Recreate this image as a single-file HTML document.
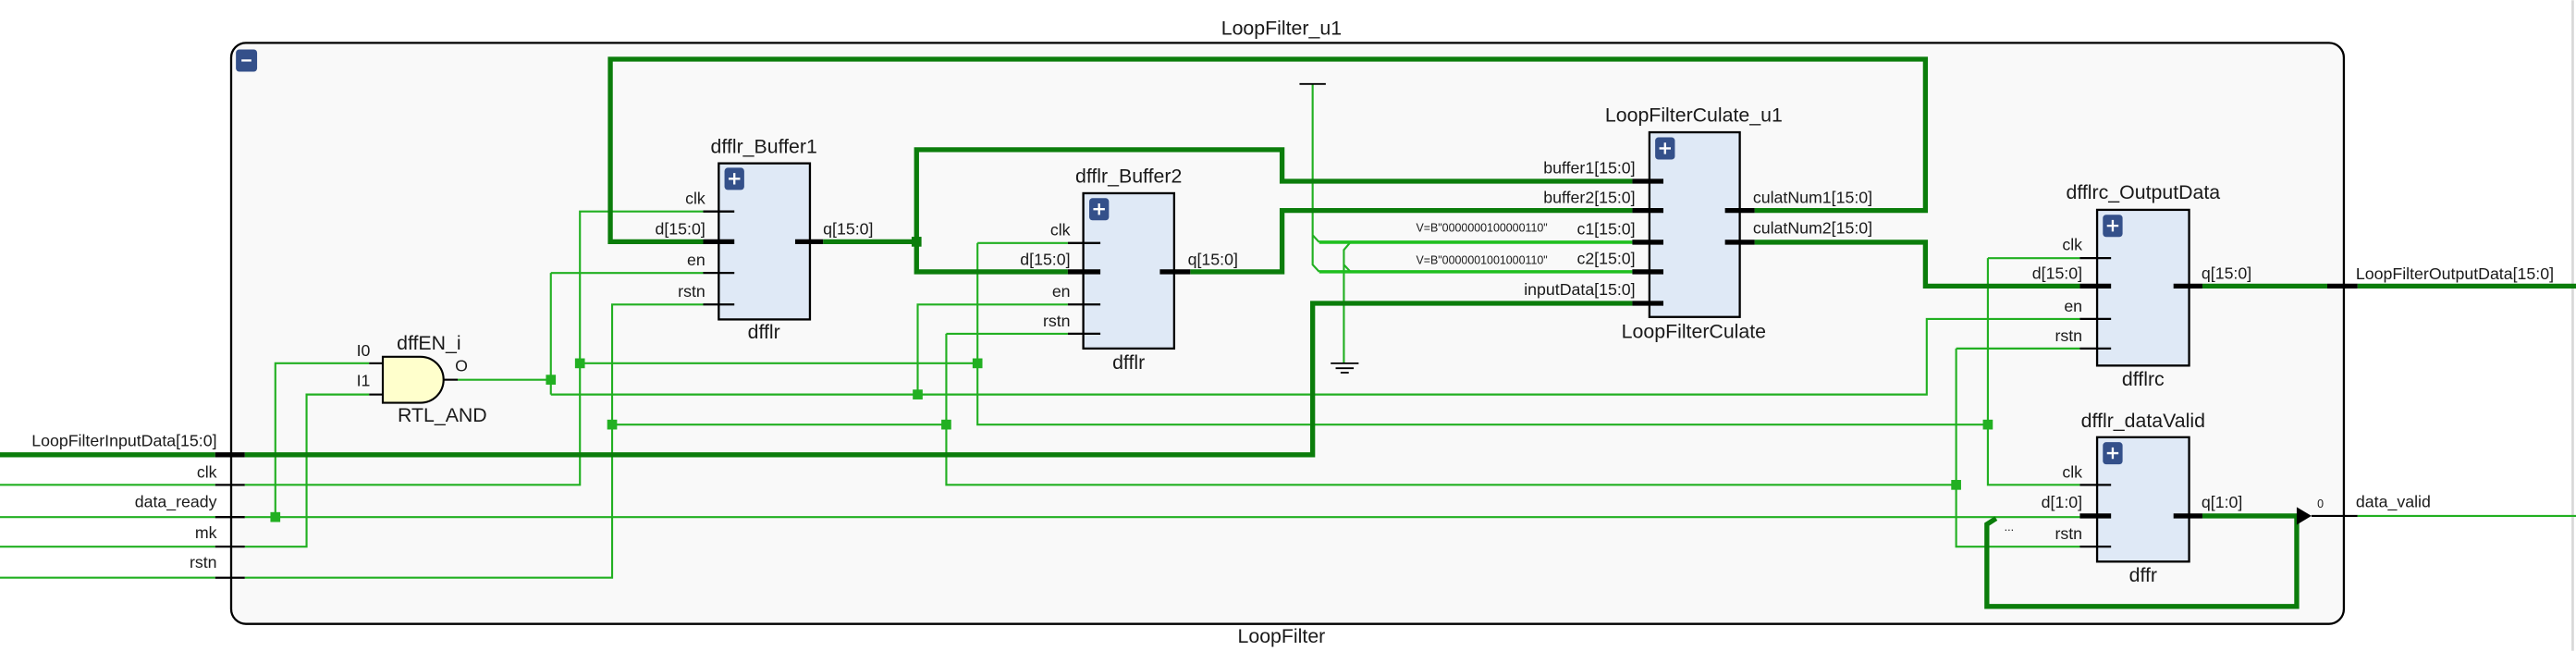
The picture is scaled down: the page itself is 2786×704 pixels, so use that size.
<!DOCTYPE html>
<html><head><meta charset="utf-8"><style>
html,body{margin:0;padding:0;background:#fff;}
svg{display:block;}
text{font-family:"Liberation Sans",sans-serif;fill:#1a1a1a;}
</style></head><body>
<svg width="2786" height="704" viewBox="0 0 1568 396" xmlns="http://www.w3.org/2000/svg">
<rect x="0" y="0" width="1568" height="396" fill="#fff"/>
<line x1="1566" y1="0" x2="1566" y2="396" stroke="#d8d8d8" stroke-width="1.5"/>
<!-- outer container -->
<rect x="140.7" y="26" width="1286" height="353.6" rx="9" fill="#f9f9f9" stroke="#000" stroke-width="1.3"/>
<rect x="143.6" y="30" width="12.9" height="13.5" rx="2" fill="#34508a"/>
<line x1="147" y1="36.7" x2="153" y2="36.7" stroke="#fff" stroke-width="1.3"/>
<text x="780" y="21" font-size="12" text-anchor="middle">LoopFilter_u1</text>
<text x="780" y="391" font-size="12" text-anchor="middle">LoopFilter</text>

<!-- thin wires -->
<g fill="none" stroke="#22b022" stroke-width="1.2">
<path d="M0 295 H131 M149 295 H353 V128.6 H428 M353 221 H595"/>
<path d="M0 314.6 H131 M149 314.6 H1266 M167.6 314.6 V221 H224.7"/>
<path d="M0 332.6 H131 M149 332.6 H186.6 V240 H224.7"/>
<path d="M0 351.5 H131 M149 351.5 H372.6 V185.2 H428 M372.6 258.3 H576"/>
<path d="M278.6 231 H335.3 M335.3 166 V240 M335.3 166 H428 M335.3 240 H1172.8 V194 H1266"/>
<path d="M558.6 240 V185.2 H650"/>
<path d="M595 147.8 H650 M595 147.8 V258.3 H1210"/>
<path d="M576 203 H650 M576 203 V295 H1190.7"/>
<path d="M1210 157 H1266 M1210 157 V295 H1266"/>
<path d="M1190.7 212 H1266 M1190.7 212 V332.6 H1266"/>
<path d="M799 51 V143 L803 147.3 M799 143 V161 L803 165.3"/>
<path d="M822 147.3 L818 152 V221 M822 165.3 L818 161"/>
<path d="M1435 313.9 H1568"/>
</g>
<g fill="none" stroke="#1fbf1f" stroke-width="2">
<path d="M803 147.3 H993.6 M803 165.3 H993.6"/>
</g>
<!-- const T and ground -->
<line x1="791" y1="51" x2="807" y2="51" stroke="#000" stroke-width="1"/>
<g stroke="#000" stroke-width="1">
<line x1="810" y1="221" x2="827" y2="221"/>
<line x1="813" y1="224" x2="824" y2="224"/>
<line x1="816" y1="226.7" x2="821" y2="226.7"/>
</g>
<text x="942" y="141" font-size="7" text-anchor="end">V=B"0000000100000110"</text>
<text x="942" y="160.5" font-size="7" text-anchor="end">V=B"0000001001000110"</text>

<!-- thick buses -->
<g fill="none" stroke="#0b7d0b" stroke-width="3">
<path d="M0 276.7 H131 M149 276.7 H799 V184.5 H993.6"/>
<path d="M428 147 H371.5 V35.9 H1172 V128 H1068"/>
<path d="M501 147 H557.9 M557.9 147 V91 H780.4 V110.2 H993.6 M557.9 147 V165.3 H650"/>
<path d="M724.5 165.3 H780.4 V128 H993.6"/>
<path d="M1068 147.3 H1172 V174 H1266"/>
<path d="M1340.6 174 H1416.6 M1435 174 H1568"/>
<path d="M1340.6 313.9 H1399 M1398 313.9 V369 H1209.4 V319 L1215 315.4"/>
</g>
<polygon points="1398,308.5 1407,313.9 1398,319.3" fill="#000"/>
<line x1="1407" y1="313.9" x2="1435" y2="313.9" stroke="#000" stroke-width="1.2"/>
<text x="1410.5" y="309" font-size="7">0</text>
<text x="1220" y="323" font-size="7">...</text>

<!-- junctions -->
<g fill="#22b022">
<rect x="350" y="218" width="6" height="6"/>
<rect x="332.3" y="228" width="6" height="6"/>
<rect x="164.6" y="311.6" width="6" height="6"/>
<rect x="369.6" y="255.3" width="6" height="6"/>
<rect x="555.6" y="237" width="6" height="6"/>
<rect x="592" y="218" width="6" height="6"/>
<rect x="573" y="255.3" width="6" height="6"/>
<rect x="1207" y="255.3" width="6" height="6"/>
<rect x="1187.7" y="292" width="6" height="6"/>
</g>
<rect x="554.9" y="144" width="6" height="6" fill="#0b7d0b"/>

<!-- left ports -->
<g stroke="#000">
<line x1="131" y1="276.7" x2="149" y2="276.7" stroke-width="3"/>
<line x1="131" y1="295" x2="149" y2="295" stroke-width="1.3"/>
<line x1="131" y1="314.6" x2="149" y2="314.6" stroke-width="1.3"/>
<line x1="131" y1="332.6" x2="149" y2="332.6" stroke-width="1.3"/>
<line x1="131" y1="351.5" x2="149" y2="351.5" stroke-width="1.3"/>
<line x1="1416.6" y1="174" x2="1435" y2="174" stroke-width="3"/>
</g>
<g font-size="10" text-anchor="end">
<text x="132" y="271.5">LoopFilterInputData[15:0]</text>
<text x="132" y="290.5">clk</text>
<text x="132" y="308.5">data_ready</text>
<text x="132" y="327.5">mk</text>
<text x="132" y="345.5">rstn</text>
</g>
<text x="1434" y="170" font-size="10">LoopFilterOutputData[15:0]</text>
<text x="1434" y="308.5" font-size="10">data_valid</text>

<!-- AND gate -->
<g stroke="#000" stroke-width="1.2">
<line x1="224.7" y1="221" x2="233" y2="221"/>
<line x1="224.7" y1="240" x2="233" y2="240"/>
<line x1="270" y1="231" x2="278.6" y2="231"/>
</g>
<path d="M233 217 H256 A14 14 0 0 1 256 245 H233 Z" fill="#ffffcc" stroke="#000" stroke-width="1.2"/>
<text x="241.5" y="212.5" font-size="12">dffEN_i</text>
<text x="277" y="226" font-size="10">O</text>
<text x="217" y="216.5" font-size="10">I0</text>
<text x="217" y="235" font-size="10">I1</text>
<text x="242" y="256.5" font-size="12">RTL_AND</text>

<!-- blocks -->
<g fill="#dfe9f6" stroke="#000" stroke-width="1.3">
<rect x="437.5" y="99.3" width="55.5" height="95"/>
<rect x="659.4" y="117.5" width="55.3" height="94.5"/>
<rect x="1004" y="80.4" width="55" height="112.4"/>
<rect x="1276.5" y="127.6" width="56" height="94.8"/>
<rect x="1276.5" y="266" width="56" height="75.7"/>
</g>
<g fill="#34508a">
<rect x="441" y="102" width="12" height="13.5" rx="2"/>
<rect x="663" y="120.5" width="12" height="13.5" rx="2"/>
<rect x="1007.5" y="83.5" width="12" height="13.5" rx="2"/>
<rect x="1280" y="130.6" width="12" height="13.5" rx="2"/>
<rect x="1280" y="269" width="12" height="13.5" rx="2"/>
</g>
<g stroke="#fff" stroke-width="1.3">
<path d="M443.5 108.7 H450.5 M447 105.2 V112.2"/>
<path d="M665.5 127.2 H672.5 M669 123.7 V130.7"/>
<path d="M1010 90.2 H1017 M1013.5 86.7 V93.7"/>
<path d="M1282.5 137.3 H1289.5 M1286 133.8 V140.8"/>
<path d="M1282.5 275.7 H1289.5 M1286 272.2 V279.2"/>
</g>

<!-- stubs -->
<g stroke="#000" stroke-width="1.3">
<path d="M428 128.6 H447 M428 166 H447 M428 185.2 H447"/>
<path d="M650 147.8 H669.8 M650 185.2 H669.8 M650 203 H669.8"/>
<path d="M1266 157 H1285 M1266 194 H1285 M1266 212 H1285"/>
<path d="M1266 295 H1285 M1266 332.6 H1285"/>
</g>
<g stroke="#000" stroke-width="3">
<path d="M428 147 H447 M484 147 H501"/>
<path d="M650 165.3 H669.8 M706 165.3 H724.5"/>
<path d="M993.6 110.2 H1012.5 M993.6 128 H1012.5 M993.6 147.3 H1012.5 M993.6 165.3 H1012.5 M993.6 184.5 H1012.5"/>
<path d="M1050 128 H1068 M1050 147.3 H1068"/>
<path d="M1266 174 H1285 M1323 174 H1340.6"/>
<path d="M1266 313.9 H1285 M1323 313.9 H1340.6"/>
</g>

<!-- block labels -->
<g font-size="12" text-anchor="middle">
<text x="465" y="93">dfflr_Buffer1</text>
<text x="465" y="206">dfflr</text>
<text x="687" y="111">dfflr_Buffer2</text>
<text x="687" y="224.5">dfflr</text>
<text x="1031" y="74">LoopFilterCulate_u1</text>
<text x="1031" y="205.5">LoopFilterCulate</text>
<text x="1304.5" y="121">dfflrc_OutputData</text>
<text x="1304.5" y="234.5">dfflrc</text>
<text x="1304.5" y="260">dfflr_dataValid</text>
<text x="1304.5" y="354">dffr</text>
</g>
<!-- pin labels -->
<g font-size="10" text-anchor="end">
<text x="429.3" y="124">clk</text>
<text x="429.3" y="142.5">d[15:0]</text>
<text x="429.3" y="161.5">en</text>
<text x="429.3" y="180.5">rstn</text>
<text x="651.5" y="143">clk</text>
<text x="651.5" y="161">d[15:0]</text>
<text x="651.5" y="180.5">en</text>
<text x="651.5" y="198.5">rstn</text>
<text x="995.4" y="105.5">buffer1[15:0]</text>
<text x="995.4" y="123.5">buffer2[15:0]</text>
<text x="995.4" y="142.5">c1[15:0]</text>
<text x="995.4" y="160.5">c2[15:0]</text>
<text x="995.4" y="179.5">inputData[15:0]</text>
<text x="1267.5" y="152">clk</text>
<text x="1267.5" y="169.5">d[15:0]</text>
<text x="1267.5" y="189.5">en</text>
<text x="1267.5" y="207.5">rstn</text>
<text x="1267.5" y="290.5">clk</text>
<text x="1267.5" y="309">d[1:0]</text>
<text x="1267.5" y="328">rstn</text>
</g>
<g font-size="10">
<text x="501" y="142.5">q[15:0]</text>
<text x="723" y="161">q[15:0]</text>
<text x="1067" y="123.5">culatNum1[15:0]</text>
<text x="1067" y="142">culatNum2[15:0]</text>
<text x="1340" y="169.5">q[15:0]</text>
<text x="1340" y="309">q[1:0]</text>
</g>
</svg>
</body></html>
